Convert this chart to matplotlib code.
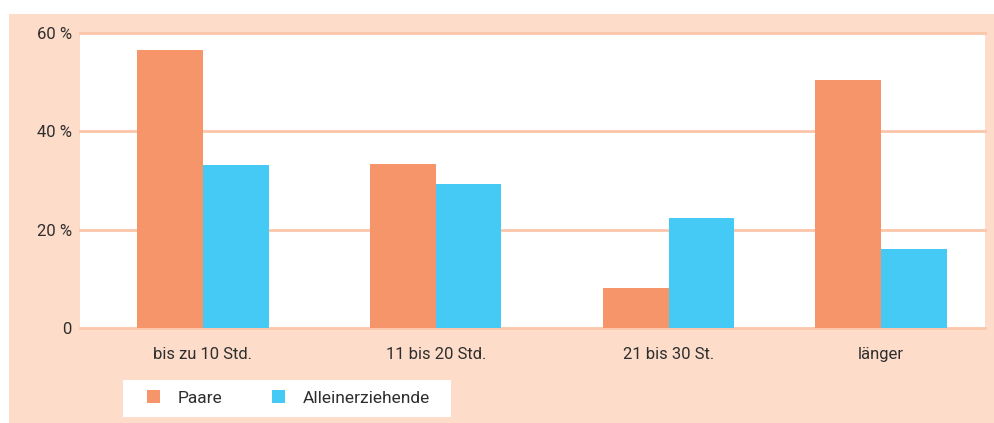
import numpy as np
import matplotlib.pyplot as plt
from matplotlib.patches import Rectangle, Patch

# Daten
kategorien = ['bis zu 10 Std.', '11 bis 20 Std.', '21 bis 30 St.', 'länger']
paare = [56.5, 33.4, 8.2, 50.4]
alleinerziehende = [33.2, 29.3, 22.3, 16.0]
yticks = [0, 20, 40, 60]
ytick_labels = ['0', '20 %', '40 %', '60 %']

# gruppen stehen im original nicht ganz gleichmaessig
gruppen_pos = [0, 1.03, 2.06, 3.0]

farbe_paare = '#F7956A'
farbe_allein = '#45C9F5'
hintergrund = '#FDDCC9'
gitter = '#FBC6A9'
textfarbe = '#2e2e2e'

plt.rcParams['font.family'] = ['Roboto', 'DejaVu Sans']

fig = plt.figure(figsize=(9.94, 4.23), dpi=100, facecolor='white')
# peach panel
fig.patches.append(Rectangle((9 / 994, 0), 1, 1 - 14 / 423, transform=fig.transFigure,
                             facecolor=hintergrund, edgecolor='none', zorder=-5))
# weisser kasten hinter der legende
fig.patches.append(Rectangle((123 / 994, 1 - 417 / 423), 328 / 994, 37 / 423,
                             transform=fig.transFigure, facecolor='white',
                             edgecolor='none', zorder=-4))

ax = fig.add_axes([80 / 994, 1 - 328 / 423, (985 - 80) / 994, (328 - 33) / 423])
ax.set_facecolor('white')

x = np.array(gruppen_pos)
w = 0.29
ax.bar(x - w / 2, paare, w, color=farbe_paare, zorder=3)
ax.bar(x + w / 2, alleinerziehende, w, color=farbe_allein, zorder=3)

ax.set_xlim(-0.544, 3.46)
ax.set_ylim(0, 60)
for v in yticks:
    ax.axhline(v, color=gitter, lw=2, zorder=2, clip_on=False)

ax.set_yticks(yticks)
ax.set_yticklabels(ytick_labels)
ax.set_xticks(x)
ax.set_xticklabels(kategorien)
ax.tick_params(length=0, labelsize=12, colors=textfarbe)
ax.tick_params(axis='x', pad=14)
ax.tick_params(axis='y', pad=6)
for s in ax.spines.values():
    s.set_visible(False)

handles = [Patch(facecolor=farbe_paare, label='Paare'),
           Patch(facecolor=farbe_allein, label='Alleinerziehende')]
leg = fig.legend(handles=handles, loc='center left', ncol=2,
                 bbox_to_anchor=(147 / 994, 1 - 398 / 423),
                 frameon=False, borderaxespad=0, borderpad=0,
                 handlelength=0.75, handleheight=0.75, handletextpad=1.0,
                 columnspacing=2.9, fontsize=12.5)
for t in leg.get_texts():
    t.set_color(textfarbe)

fig.savefig('out.png', dpi=100, facecolor='white')
